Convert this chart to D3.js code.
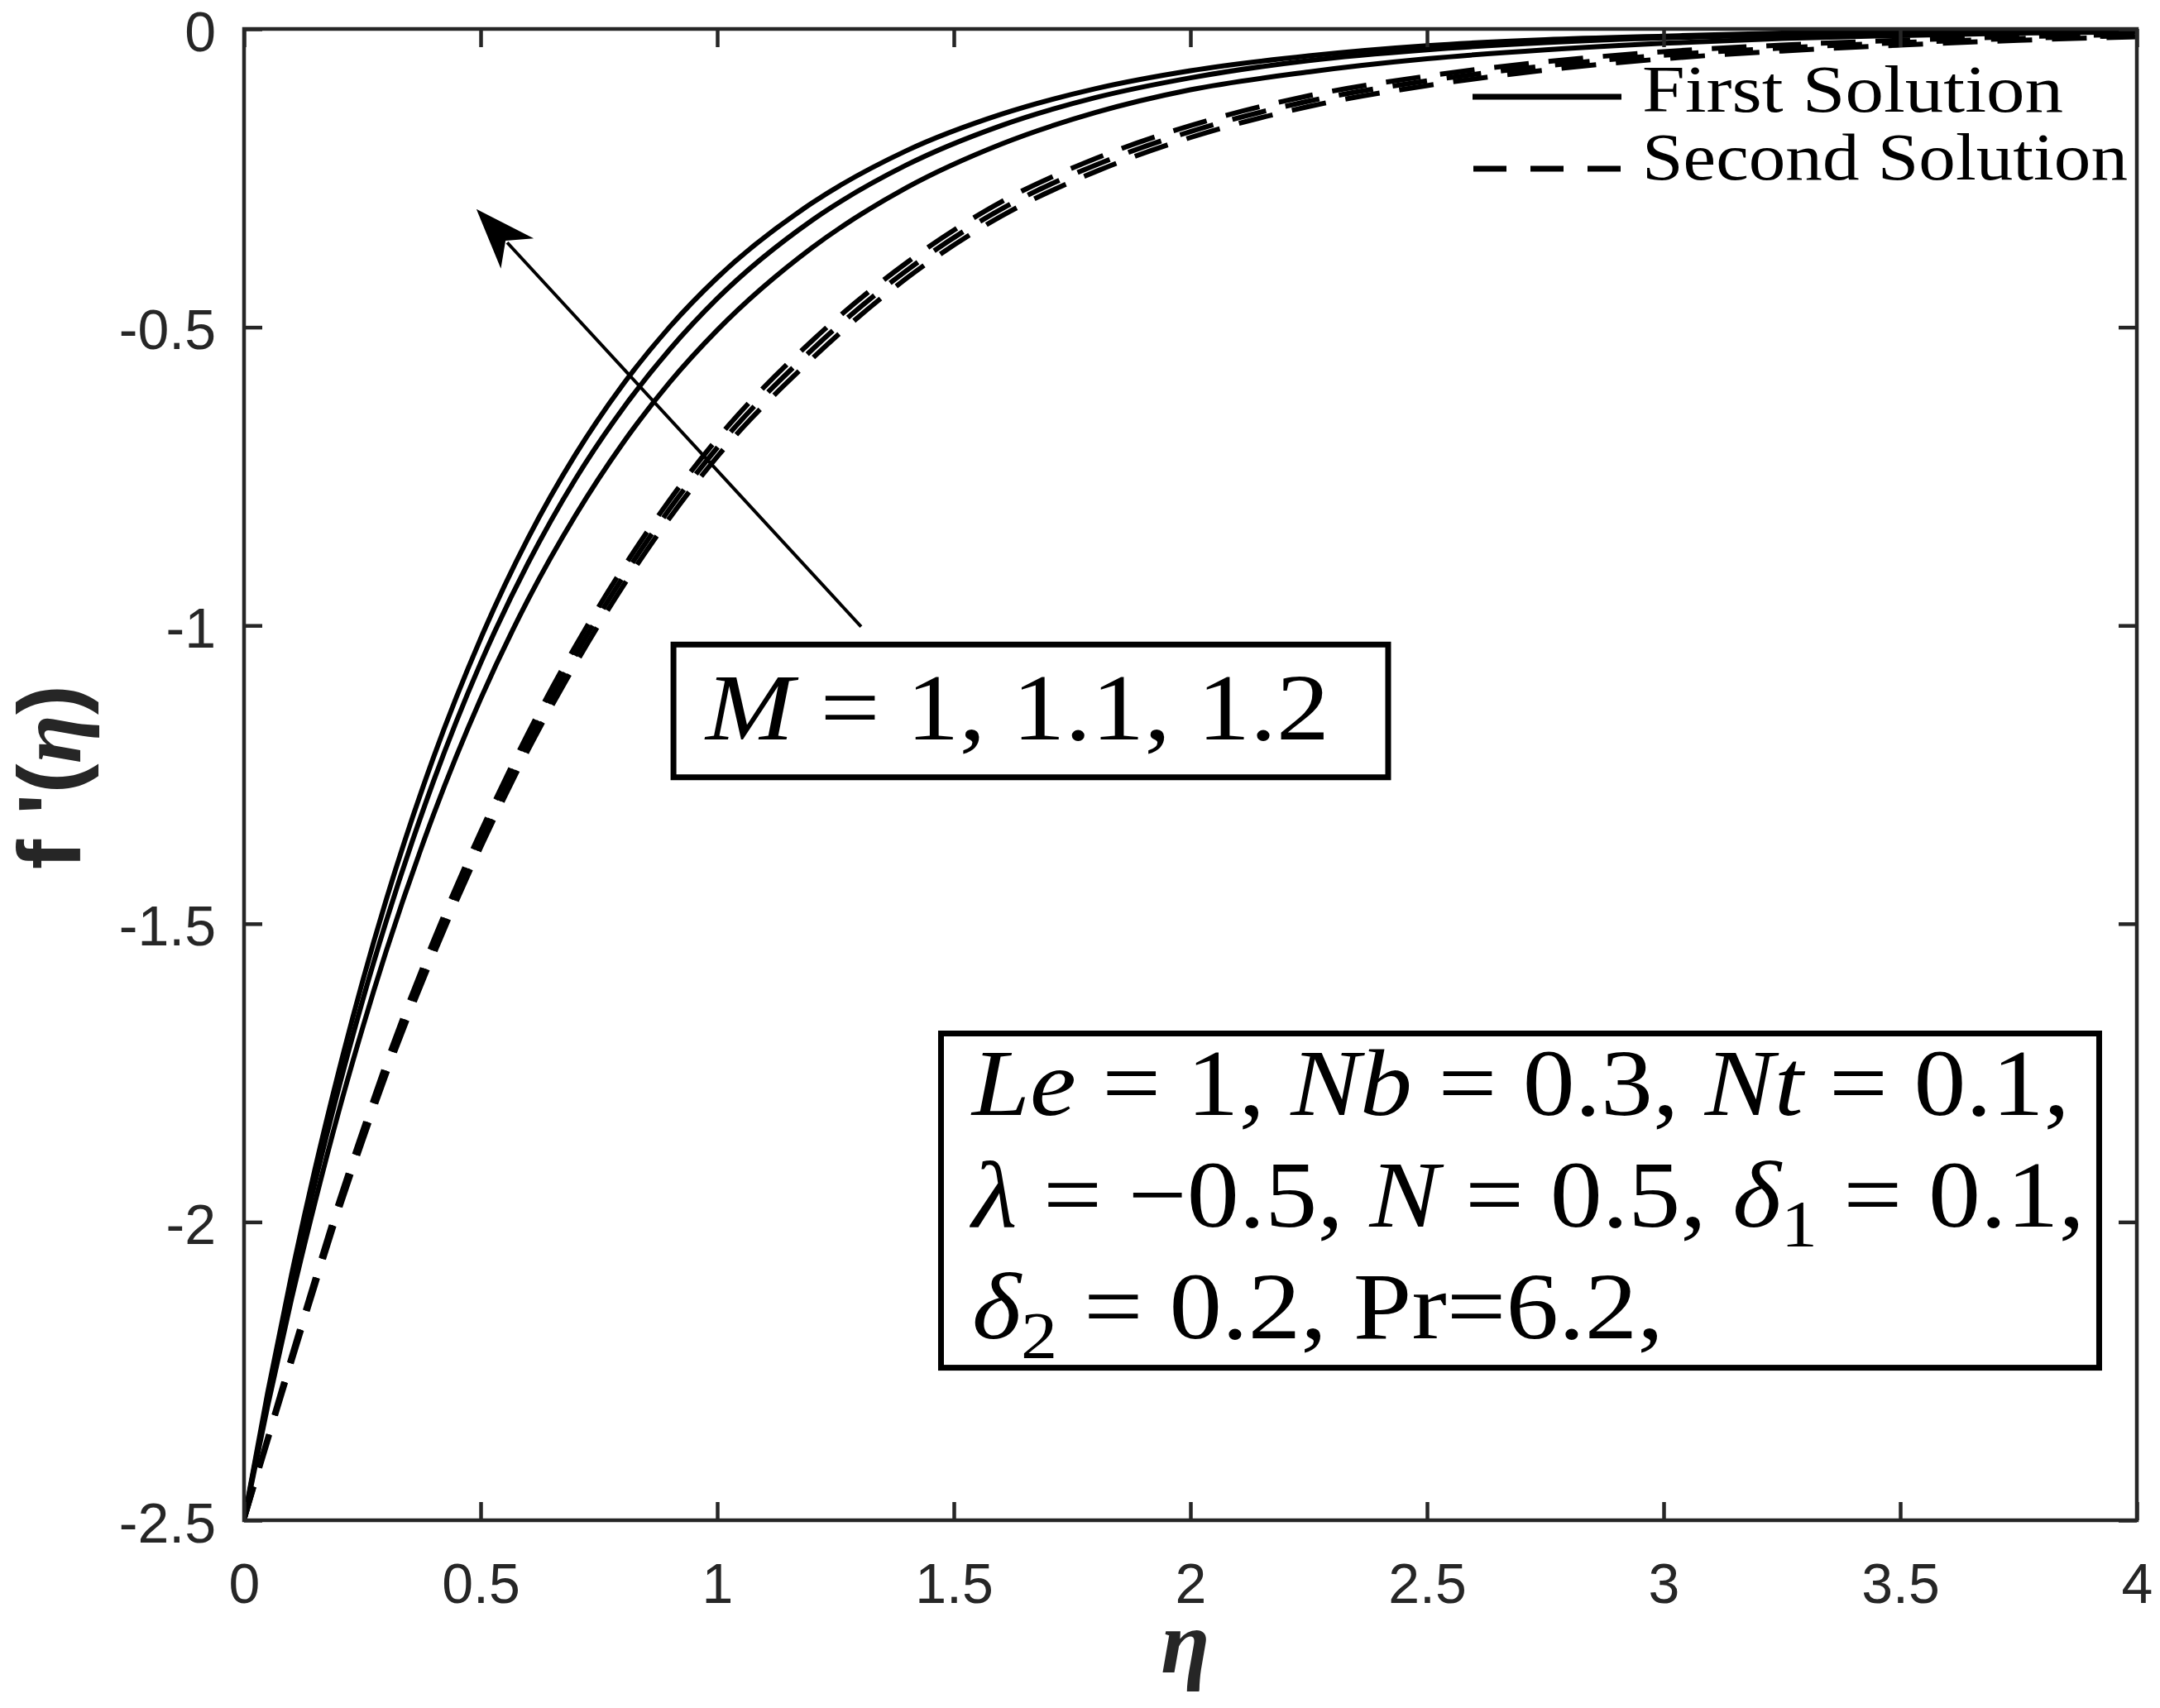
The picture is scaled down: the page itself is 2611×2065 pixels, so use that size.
<!DOCTYPE html>
<html><head><meta charset="utf-8">
<script src="https://cdn.jsdelivr.net/npm/d3@7"></script>
<style>body{margin:0;background:#fff}svg{display:block}</style>
</head><body>
<svg id="chart" width="2611" height="2065"></svg>
<script>
// ---- data ----
const eta = [0,0.05,0.1,0.15,0.2,0.25,0.3,0.4,0.5,0.6,0.7,0.8,0.9,1.0,1.2,1.4,1.6,1.8,2.0,2.25,2.5,2.75,3.0,3.25,3.5,3.75,4.0];
// first (solid) solutions, M = 1.2, 1.1, 1.0
const firstM12 = [-2.5,-2.286,-2.090,-1.911,-1.748,-1.598,-1.461,-1.222,-1.022,-0.854,-0.714,-0.597,-0.499,-0.417,-0.292,-0.204,-0.143,-0.100,-0.070,-0.045,-0.028,-0.018,-0.012,-0.007,-0.005,-0.003,-0.002];
const firstM11 = [-2.5,-2.295,-2.107,-1.934,-1.776,-1.630,-1.497,-1.262,-1.063,-0.896,-0.755,-0.637,-0.537,-0.452,-0.321,-0.228,-0.162,-0.115,-0.082,-0.053,-0.035,-0.023,-0.015,-0.010,-0.006,-0.004,-0.003];
const firstM10 = [-2.5,-2.308,-2.130,-1.967,-1.815,-1.676,-1.547,-1.318,-1.123,-0.957,-0.816,-0.695,-0.592,-0.505,-0.367,-0.266,-0.193,-0.140,-0.102,-0.072,-0.050,-0.035,-0.024,-0.016,-0.011,-0.007,-0.005];
// second (dashed) solutions
const secondM12 = [-2.5,-2.360,-2.225,-2.094,-1.966,-1.848,-1.734,-1.529,-1.346,-1.181,-1.035,-0.905,-0.789,-0.687,-0.523,-0.392,-0.290,-0.217,-0.162,-0.112,-0.079,-0.055,-0.038,-0.027,-0.019,-0.013,-0.009];
const secondM11 = [-2.5,-2.364,-2.231,-2.101,-1.974,-1.857,-1.744,-1.541,-1.359,-1.195,-1.050,-0.920,-0.804,-0.702,-0.538,-0.405,-0.302,-0.228,-0.172,-0.121,-0.087,-0.062,-0.044,-0.032,-0.023,-0.016,-0.011];
const secondM10 = [-2.5,-2.368,-2.237,-2.108,-1.982,-1.866,-1.754,-1.553,-1.372,-1.209,-1.065,-0.935,-0.819,-0.717,-0.553,-0.418,-0.314,-0.239,-0.182,-0.130,-0.095,-0.069,-0.050,-0.037,-0.027,-0.019,-0.013];

const xTicks = [0,0.5,1,1.5,2,2.5,3,3.5,4];
const xTickLabels = ["0","0.5","1","1.5","2","2.5","3","3.5","4"];
const yTicks = [0,-0.5,-1,-1.5,-2,-2.5];
const yTickLabels = ["0","-0.5","-1","-1.5","-2","-2.5"];
const legendLabels = ["First Solution","Second Solution"];
const mLabel = "1, 1.1, 1.2";

// ---- layout ----
const L = 295, R = 2583, T = 35, B = 1838;
const AX = "#262626";
const svg = d3.select("#chart");
const x = d3.scaleLinear().domain([0,4]).range([L,R]);
const y = d3.scaleLinear().domain([-2.5,0]).range([B,T]);

svg.append("defs").append("clipPath").attr("id","clip")
  .append("rect").attr("x",L).attr("y",T).attr("width",R-L).attr("height",B-T);

const line = d3.line().x((d,i)=>x(eta[i])).y(d=>y(d)).curve(d3.curveMonotoneX);
const curves = svg.append("g").attr("clip-path","url(#clip)");
[firstM12, firstM11, firstM10].forEach(s=>{
  curves.append("path").attr("d",line(s)).attr("fill","none").attr("stroke","#000").attr("stroke-width",6);
});
[secondM12, secondM11, secondM10].forEach(s=>{
  curves.append("path").attr("d",line(s)).attr("fill","none").attr("stroke","#000").attr("stroke-width",6)
    .attr("stroke-dasharray","42,24");
});

// ---- axes ----
function styleAxis(g){
  g.select(".domain").remove();
  g.selectAll(".tick line").attr("stroke",AX).attr("stroke-width",4.5);
  g.selectAll("text").attr("fill",AX).attr("font-family","'Liberation Sans', Arial, sans-serif").attr("font-size",68);
}
const gx = svg.append("g").attr("transform",`translate(0,${B})`)
  .call(d3.axisBottom(x).tickValues(xTicks).tickFormat((d,i)=>xTickLabels[i]).tickSize(-22));
styleAxis(gx); gx.selectAll("text").attr("y",100).attr("dy",null);
const gy = svg.append("g").attr("transform",`translate(${L},0)`)
  .call(d3.axisLeft(y).tickValues(yTicks).tickFormat((d,i)=>yTickLabels[i]).tickSize(-22));
styleAxis(gy); gy.selectAll("text").attr("x",-34).attr("dy",null).attr("y",26);
const gt = svg.append("g").attr("transform",`translate(0,${T})`)
  .call(d3.axisTop(x).tickValues(xTicks).tickFormat("").tickSize(-22));
styleAxis(gt);
const gr = svg.append("g").attr("transform",`translate(${R},0)`)
  .call(d3.axisRight(y).tickValues(yTicks).tickFormat("").tickSize(-22));
styleAxis(gr);
svg.append("rect").attr("x",L).attr("y",T).attr("width",R-L).attr("height",B-T)
  .attr("fill","none").attr("stroke",AX).attr("stroke-width",4.5);

// axis labels
svg.append("text").attr("x",(L+R)/2-6).attr("y",2022).attr("text-anchor","middle")
  .attr("font-family","'Liberation Serif', serif").attr("font-weight","bold").attr("font-style","italic")
  .attr("font-size",108).attr("fill",AX).text("η");
const yl = svg.append("text").attr("transform",`translate(97,${(T+B)/2+3}) rotate(-90)`)
  .attr("text-anchor","middle").attr("font-size",108).attr("fill",AX)
  .attr("font-family","'Liberation Sans', Arial, sans-serif").attr("font-weight","bold");
yl.append("tspan").text("f '(");
yl.append("tspan").attr("font-family","'Liberation Serif', serif").attr("font-style","italic").text("η");
yl.append("tspan").text(")");

// ---- legend ----
const serif = "'Liberation Serif', 'Times New Roman', serif";
svg.append("line").attr("x1",1780).attr("x2",1960).attr("y1",117).attr("y2",117)
  .attr("stroke","#000").attr("stroke-width",7);
svg.append("line").attr("x1",1781).attr("x2",1959).attr("y1",204).attr("y2",204)
  .attr("stroke","#000").attr("stroke-width",7).attr("stroke-dasharray","40,29");
[[legendLabels[0],135,509],[legendLabels[1],217,587]].forEach(([t,by,w])=>{
  svg.append("text").attr("x",1985).attr("y",by).attr("font-family",serif).attr("font-size",80)
    .attr("fill","#000").attr("textLength",w).attr("lengthAdjust","spacingAndGlyphs").text(t);
});

// ---- arrow (data coordinates) ----
const arrowTail = [1.304,-1.002], arrowTip = [0.491,-0.302];
const tx = x(arrowTip[0]), ty = y(arrowTip[1]), sx = x(arrowTail[0]), sy = y(arrowTail[1]);
const len = Math.hypot(sx-tx, sy-ty), ux = (sx-tx)/len, uy = (sy-ty)/len, px = -uy, py = ux;
const pt = (a,p)=>[tx+ux*a+px*p, ty+uy*a+py*p];
svg.append("line").attr("x1",sx).attr("y1",sy).attr("x2",pt(55,0)[0]).attr("y2",pt(55,0)[1])
  .attr("stroke","#000").attr("stroke-width",4);
svg.append("polygon").attr("points",[pt(0,0),pt(73,-27),pt(52,0),pt(73,27)].map(p=>p.join(",")).join(" "))
  .attr("fill","#000");

// ---- annotation boxes ----
function box(e0,f0,e1,f1){
  svg.append("rect").attr("x",x(e0)).attr("y",y(f0)).attr("width",x(e1)-x(e0)).attr("height",y(f1)-y(f0))
    .attr("fill","#fff").attr("stroke","#000").attr("stroke-width",7);
}
function mathText(px0, py0, w, segs){
  const t = svg.append("text").attr("x",px0).attr("y",py0).attr("font-family",serif).attr("font-size",115)
    .attr("fill","#000").attr("textLength",w).attr("lengthAdjust","spacingAndGlyphs");
  let shift = 0;
  segs.forEach(s=>{
    const sp = t.append("tspan").text(s.t);
    if (s.i) sp.attr("font-style","italic");
    if (s.sub){ sp.attr("font-size",80).attr("dy",24); shift = 24; }
    else if (shift){ sp.attr("dy",-shift); shift = 0; }
  });
}
box(0.9075,-1.032,2.4178,-1.2545);
mathText(853, 894, 754, [{t:"M",i:true},{t:" = "+mLabel}]);

box(1.4729,-1.684,3.9204,-2.2443);
mathText(1175,1348,1327,[{t:"Le",i:true},{t:" = 1, "},{t:"Nb",i:true},{t:" = 0.3, "},{t:"Nt",i:true},{t:" = 0.1,"}]);
mathText(1175,1483,1345,[{t:"λ",i:true},{t:" = −0.5, "},{t:"N",i:true},{t:" = 0.5, "},{t:"δ",i:true},{t:"1",sub:true},{t:" = 0.1,"}]);
mathText(1175,1618,836,[{t:"δ",i:true},{t:"2",sub:true},{t:" = 0.2, Pr=6.2,"}]);
</script>
</body></html>
